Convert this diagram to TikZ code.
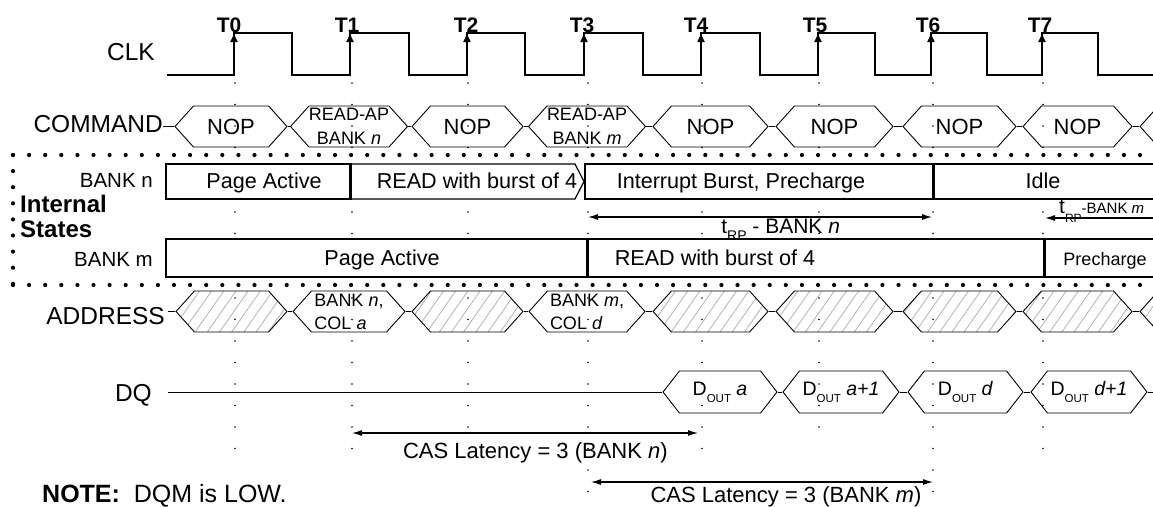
\documentclass[tikz,border=0pt]{standalone}
\usepackage{fontspec}
\setmainfont{Liberation Sans}
\usetikzlibrary{shapes,arrows,arrows.meta,positioning,patterns.meta}
\newcommand{\fsz}[1]{\fontsize{#1}{#1}\selectfont}
\newcommand{\lowsub}[3]{\raisebox{-#2pt}{\fsz{#1}#3}}
\tikzstyle{sig}=[anchor=east,inner sep=0,font=\fsz{24.5}]
\tikzstyle{tlbl}=[inner sep=0,font=\fsz{21}\bfseries]
\tikzstyle{hexa}=[signal,signal to=east and west,signal pointer angle=96,draw,line width=0.9pt,minimum height=41pt,inner sep=0,align=center]
\tikzstyle{cmd}=[hexa,font=\fsz{22}]
\tikzstyle{cmdsm}=[hexa,font=\fontsize{18}{23.5}\selectfont]
\tikzstyle{addr}=[hexa,align=left,font=\fontsize{18}{23}\selectfont]
\tikzstyle{hatch}=[hexa,pattern={Lines[angle=55,distance=10pt,line width=0.8pt]},pattern color=gray!60]
\tikzstyle{dout}=[hexa,signal pointer angle=104,minimum height=42pt,font=\fsz{19.5}]
\tikzstyle{bank}=[rectangle,draw,fill=white,line width=1.2pt,inner sep=0]
\tikzstyle{stxt}=[anchor=base,inner sep=0,font=\fsz{21.6}]
\tikzstyle{bsep}=[line width=2.6pt]
\tikzstyle{wire}=[line width=0.9pt]
\tikzstyle{clk}=[line width=2.6pt]
\tikzstyle{edgearr}=[-{Latex[length=9pt,width=8pt]},line width=1pt]
\tikzstyle{guide}=[line width=1.7pt,line cap=round,dash pattern=on 0pt off 21.5pt]
\tikzstyle{bdots}=[line width=4.2pt,line cap=round,dash pattern=on 0pt off 16.1pt]
\tikzstyle{dim}=[{Latex[length=10pt,width=6pt]}-{Latex[length=10pt,width=6pt]},line width=1.1pt]
\tikzstyle{dimtxt}=[inner sep=0,font=\fsz{22}]

\begin{document}
\begin{tikzpicture}[x=1pt,y=-1pt]
\useasboundingbox (0,0) rectangle (1153,506);
\clip (0,0) rectangle (1153,506);
% clock-edge guides
\draw[guide] (235,83) -- (235,452);
\draw[guide] (352,83) -- (352,457);
\draw[guide] (468,83) -- (468,427);
\draw[guide] (588,83) -- (588,500);
\draw[guide] (702,83) -- (702,453);
\draw[guide] (819,83) -- (819,427);
\draw[guide] (933,83) -- (933,497);
\draw[guide] (1043,83) -- (1043,453);
% clock
\node[sig] (clk) at (155,52.5) {CLK};
\draw[clk] (167,75) -| (234,33) -| (292,75) -| (350,33) -| (409,75) -| (467,33) -| (525,75) -| (584,33) -| (643,75) -| (701,33) -| (760,75) -| (818,33) -| (875,75) -| (931,33) -| (987,75) -| (1042,33) -| (1098,75) -- (1160,75);
\coordinate (r0) at (234,33);
\coordinate (r1) at (350,33);
\coordinate (r2) at (467,33);
\coordinate (r3) at (584,33);
\coordinate (r4) at (701,33);
\coordinate (r5) at (818,33);
\coordinate (r6) at (931,33);
\coordinate (r7) at (1042,33);
\draw[edgearr] ([yshift=-18pt]r0) -- (r0);
\draw[edgearr] ([yshift=-18pt]r1) -- (r1);
\draw[edgearr] ([yshift=-18pt]r2) -- (r2);
\draw[edgearr] ([yshift=-18pt]r3) -- (r3);
\draw[edgearr] ([yshift=-18pt]r4) -- (r4);
\draw[edgearr] ([yshift=-18pt]r5) -- (r5);
\draw[edgearr] ([yshift=-18pt]r6) -- (r6);
\draw[edgearr] ([yshift=-18pt]r7) -- (r7);
\node[tlbl] (t0) at (229,25) {T0};
\node[tlbl] (t1) at (347,25) {T1};
\node[tlbl] (t2) at (466,25) {T2};
\node[tlbl] (t3) at (582,25) {T3};
\node[tlbl] (t4) at (696,25) {T4};
\node[tlbl] (t5) at (815,25) {T5};
\node[tlbl] (t6) at (928,25) {T6};
\node[tlbl] (t7) at (1040,25) {T7};
% command bus
\node[sig] (cmd) at (163,124) {COMMAND};
\node[cmd, minimum width=112pt] (c0) at (231,126.5) {NOP};
\node[cmdsm, minimum width=112pt] (c1) at (349,126.5) {READ-AP\\BANK \textit{n}};
\node[cmd, minimum width=111pt] (c2) at (467.5,126.5) {NOP};
\node[cmdsm, minimum width=116pt] (c3) at (587,126.5) {READ-AP\\BANK \textit{m}};
\node[cmd, minimum width=115pt] (c4) at (710.5,126.5) {NOP};
\node[cmd, minimum width=117pt] (c5) at (834.5,126.5) {NOP};
\node[cmd, minimum width=113pt] (c6) at (959.5,126.5) {NOP};
\node[cmd, minimum width=109pt] (c7) at (1077.5,126.5) {NOP};
\node[cmd, minimum width=112pt] (c8) at (1196,126.5) {};
\draw[wire] (cmd.east |- c0.west) -- (c0.west) (c0.east) -- (c1.west) (c1.east) -- (c2.west) (c2.east) -- (c3.west) (c3.east) -- (c4.west) (c4.east) -- (c5.west) (c5.east) -- (c6.west) (c6.east) -- (c7.west) (c7.east) -- (c8.west);
% internal states
\draw[bdots] (13,155) -- (1160,155);
\draw[bdots] (13,285) -- (1160,285);
\draw[bdots] (13,155) -- (13,285);
\node[anchor=west,inner sep=0,align=left,font=\fontsize{24}{25}\selectfont\bfseries] (ist) at (20,216) {Internal\\States};
\node[sig,font=\fsz{20.5}] (bkn) at (153,180) {BANK n};
\node[sig,font=\fsz{20.5}] (bkm) at (153,259) {BANK m};
\node[bank, minimum width=184pt, minimum height=35pt] (n0) at (258,181.5) {};
\node[bank, signal, signal to=east, signal pointer angle=125, minimum width=234pt, minimum height=35pt] (n1) at (462.5,181.5) {};
\node[bank, minimum width=348pt, minimum height=35pt] (n2) at (759,181.5) {};
\node[bank, minimum width=227pt, minimum height=35pt] (n3) at (1046.5,181.5) {};
\node[bank, minimum width=421pt, minimum height=38pt] (m0) at (376.5,258) {};
\node[bank, minimum width=457pt, minimum height=38pt] (m1) at (815.5,258) {};
\node[bank, minimum width=116pt, minimum height=38pt] (m2) at (1102,258) {};
\draw[bsep] (n0.north east) -- (n0.south east);
\draw[bsep] (n2.north east) -- (n2.south east);
\draw[bsep] (m0.north east) -- (m0.south east);
\draw[bsep] (m1.north east) -- (m1.south east);
\node[stxt] (tn0) at (264,188) {Page Active};
\node[stxt] (tn1) at (477,188) {READ with burst of 4};
\node[stxt] (tn2) at (741,188) {Interrupt Burst, Precharge};
\node[stxt] (tn3) at (1043,188) {Idle};
\node[stxt] (tm0) at (382,265) {Page Active};
\node[stxt] (tm1) at (715,265) {READ with burst of 4};
\node[stxt, font=\fsz{18}] (tm2) at (1105,265) {Precharge};
\coordinate (rpn1) at (588,217);
\coordinate (rpn2) at (932,217);
\draw[dim] (rpn1) -- node[dimtxt, font=\fsz{21}, below=1pt, pos=.56] {t\lowsub{14}{7}{RP} - BANK \textit{n}} (rpn2);
\coordinate (rpm1) at (1045,218);
\coordinate (rpm2) at (1160,218);
\draw[{Latex[length=10pt,width=6pt]}-, line width=1.1pt] (rpm1) -- (rpm2);
\node[anchor=base west, inner sep=0, font=\fsz{15}] (rpm) at (1059,213) {{\fsz{21}t}\lowsub{12}{9}{RP}-BANK \textit{m}};
% address bus
\node[sig] (adr) at (165,316) {ADDRESS};
\node[hatch, minimum width=111pt] (a0) at (231.5,311.5) {};
\node[addr, minimum width=112pt] (a1) at (349,311.5) {BANK \textit{n},\\COL \textit{a}};
\node[hatch, minimum width=111pt] (a2) at (467.5,311.5) {};
\node[addr, minimum width=116pt] (a3) at (587,311.5) {BANK \textit{m},\\COL \textit{d}};
\node[hatch, minimum width=115pt] (a4) at (710.5,311.5) {};
\node[hatch, minimum width=117pt] (a5) at (834.5,311.5) {};
\node[hatch, minimum width=113pt] (a6) at (959.5,311.5) {};
\node[hatch, minimum width=109pt] (a7) at (1077.5,311.5) {};
\node[hatch, minimum width=112pt] (a8) at (1196,311.5) {};
\draw[wire, shorten <=3pt] (adr.east |- a0.west) -- (a0.west);
\draw[wire] (a0.east) -- (a1.west) (a1.east) -- (a2.west) (a2.east) -- (a3.west) (a3.east) -- (a4.west) (a4.east) -- (a5.west) (a5.east) -- (a6.west) (a6.east) -- (a7.west) (a7.east) -- (a8.west);
% data bus
\node[sig] (dq) at (152,395) {DQ};
\node[dout, minimum width=114pt] (d0) at (720,392) {D\lowsub{11.5}{7}{OUT} \textit{a}};
\node[dout, minimum width=116pt] (d1) at (841,392) {D\lowsub{11.5}{7}{OUT} \textit{a+1}};
\node[dout, minimum width=115pt] (d2) at (965.5,392) {D\lowsub{11.5}{7}{OUT} \textit{d}};
\node[dout, minimum width=116pt] (d3) at (1089,392) {D\lowsub{11.5}{7}{OUT} \textit{d+1}};
\coordinate (dqend) at (1160,392);
\draw[wire, shorten <=16pt] (dq.east |- d0.west) -- (d0.west);
\draw[wire] (d0.east) -- (d1.west) (d1.east) -- (d2.west) (d2.east) -- (d3.west) (d3.east) -- (dqend);
% latencies
\coordinate (casn1) at (352,433);
\coordinate (casn2) at (698,433);
\draw[dim] (casn1) -- node[dimtxt, below=9pt, pos=.53] {CAS Latency = 3 (BANK \textit{n})} (casn2);
\coordinate (casm1) at (591,482);
\coordinate (casm2) at (933,482);
\draw[dim] (casm1) -- node[dimtxt, below=4pt, pos=.57] {CAS Latency = 3 (BANK \textit{m})} (casm2);
\node[anchor=base west, inner sep=0, font=\fsz{25}] (note) at (42,502) {\textbf{NOTE:}\ \ DQM is LOW.};
\end{tikzpicture}
\end{document}
